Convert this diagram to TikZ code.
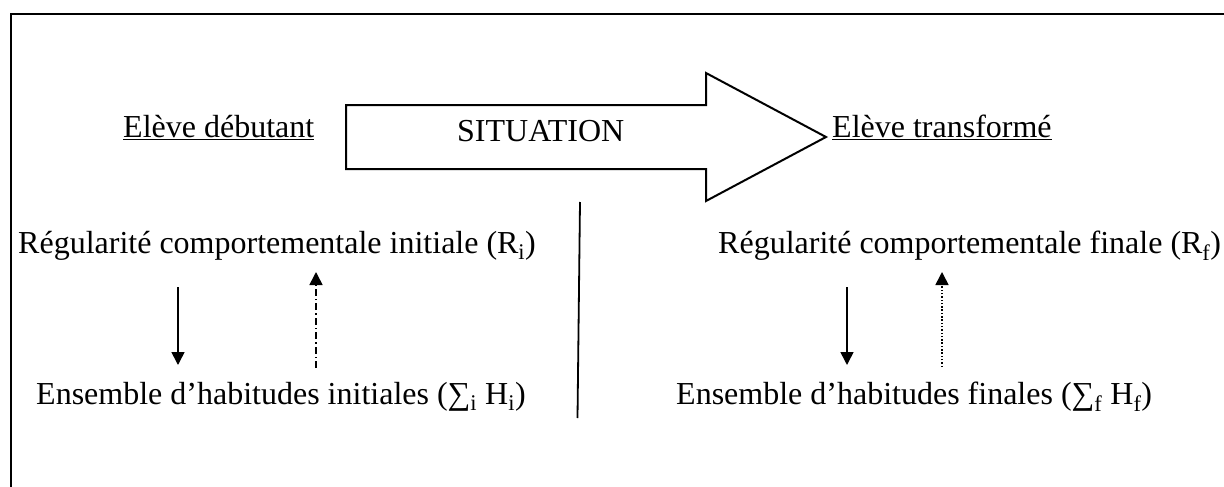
\documentclass[tikz,border=0pt]{standalone}
\usepackage{fontspec}
\setmainfont{Liberation Serif}
\usetikzlibrary{arrows.meta}
\tikzset{
  lbl/.style={anchor=base west, inner sep=0pt, font=\fontsize{32}{38}\selectfont},
  frameline/.style={line width=2pt},
  bigarrow/.style={line width=2pt, line join=miter},
  arr/.style={line width=1.6pt, -{Triangle[length=13pt,width=13pt]}},
  dashdot/.style={dash pattern=on 7pt off 3pt on 1.5pt off 3pt},
  dots/.style={dash pattern=on 1.5pt off 1.8pt},
}
\newcommand{\ul}[1]{\underline{#1}}
\begin{document}
\begin{tikzpicture}[x=1pt,y=-1pt]
\useasboundingbox (0,0) rectangle (1224,487);
\fill[white] (0,0) rectangle (1224,487);
% frame (only top and left edges visible)
\draw[frameline] (11,487) -- (11,14) -- (1224,14);
% big arrow
\draw[bigarrow] (346,105) -- (706,105) -- (706,73) -- (826,137) -- (706,201) -- (706,169) -- (346,169) -- cycle;
\node[lbl] (sit) at (457,141) {SITUATION};
% titles
\node[lbl] (deb) at (123,137) {\ul{Elève débutant}};
\node[lbl] (tra) at (832,137) {\ul{Elève transformé}};
% rows
\node[lbl] (ri) at (18,253) {Régularité comportementale initiale (R\textsubscript{i})};
\node[lbl] (rf) at (718,253) {Régularité comportementale finale (R\textsubscript{f})};
\node[lbl] (hi) at (36,404) {Ensemble d’habitudes initiales (∑\textsubscript{i} H\textsubscript{i})};
\node[lbl] (hf) at (676,404) {Ensemble d’habitudes finales (∑\textsubscript{f} H\textsubscript{f})};
% separator
\coordinate (sepT) at (580,202);
\coordinate (sepB) at (577.5,418);
\draw[line width=1.8pt] (sepT) -- (sepB);
% left arrows
\coordinate (l1a) at (178,287); \coordinate (l1b) at (178,365);
\coordinate (l2a) at (316,368); \coordinate (l2b) at (316,272);
\draw[arr] (l1a) -- (l1b);
\draw[arr,dashdot] (l2a) -- (l2b);
% right arrows
\coordinate (r1a) at (847,287); \coordinate (r1b) at (847,365);
\coordinate (r2a) at (942,367); \coordinate (r2b) at (942,272);
\draw[arr] (r1a) -- (r1b);
\draw[arr,dots] (r2a) -- (r2b);
\end{tikzpicture}
\end{document}
